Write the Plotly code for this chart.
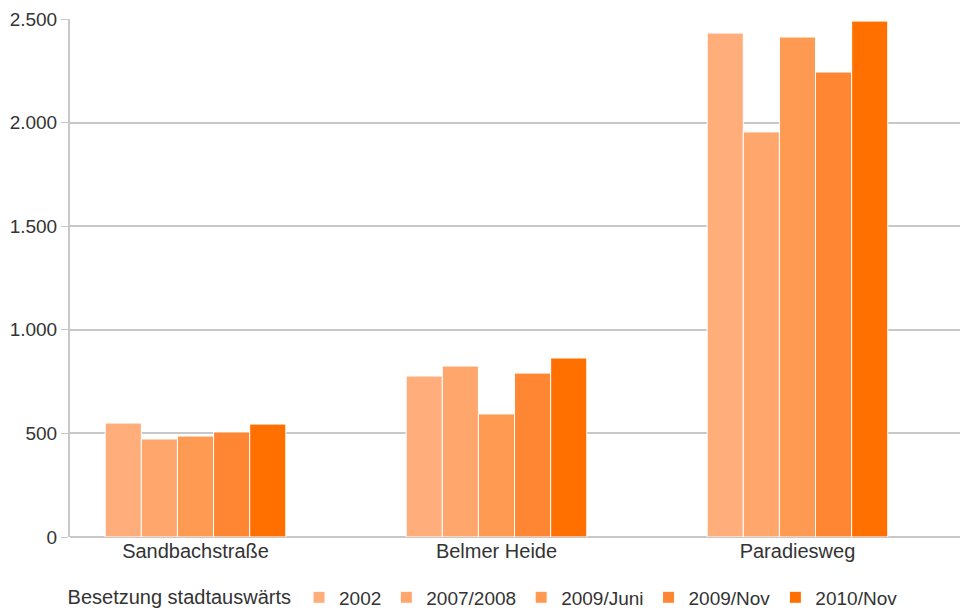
import plotly.graph_objects as go

# Haltestellen (categories) and survey periods (series)
stops = ["Sandbachstraße", "Belmer Heide", "Paradiesweg"]
periods = ["2002", "2007/2008", "2009/Juni", "2009/Nov", "2010/Nov"]

# Besetzung stadtauswärts per period, one value per stop
v_2002 = [550, 777, 2432]
v_2007_2008 = [473, 825, 1955]
v_2009_juni = [487, 594, 2413]
v_2009_nov = [507, 791, 2244]
v_2010_nov = [545, 864, 2490]

values = [v_2002, v_2007_2008, v_2009_juni, v_2009_nov, v_2010_nov]
colors = ["#ffad7a", "#ffa66c", "#ff9a52", "#ff8733", "#ff7000"]

FONT = "Liberation Sans, Arial, sans-serif"
TEXT = "#333333"

fig = go.Figure()
for name, vals, col in zip(periods, values, colors):
    fig.add_trace(go.Bar(
        x=stops, y=vals, name=name,
        marker=dict(color=col, line=dict(color="white", width=1)),
    ))

fig.update_layout(
    width=960, height=612,
    margin=dict(l=70, r=0, t=19, b=75, autoexpand=False),
    paper_bgcolor="white", plot_bgcolor="white",
    barmode="group", bargap=0.4, bargroupgap=0.0,
    font=dict(family=FONT, size=20, color=TEXT),
    legend=dict(
        orientation="h", x=-0.005, xanchor="left", y=-0.08, yanchor="top",
        title=dict(text="Besetzung stadtauswärts", font=dict(size=20, color=TEXT)),
        font=dict(size=19, color=TEXT), itemwidth=30,
    ),
    showlegend=True,
)
fig.update_xaxes(
    range=[-0.417, 2.54], showgrid=False, ticks="", showline=False,
    tickfont=dict(size=20, color=TEXT),
)
fig.update_yaxes(
    range=[0, 2500], tickvals=[0, 500, 1000, 1500, 2000, 2500],
    ticktext=["0", "500", "1.000", "1.500", "2.000", "2.500"],
    showgrid=True, gridcolor="#c8c8c8", gridwidth=2,
    showline=True, linecolor="#c8c8c8", linewidth=2,
    ticks="outside", ticklen=7, tickcolor="#c8c8c8", tickwidth=1,
    zeroline=True, zerolinecolor="#c8c8c8", zerolinewidth=2,
    tickfont=dict(size=19, color=TEXT),
)

fig.write_html("out.html")
